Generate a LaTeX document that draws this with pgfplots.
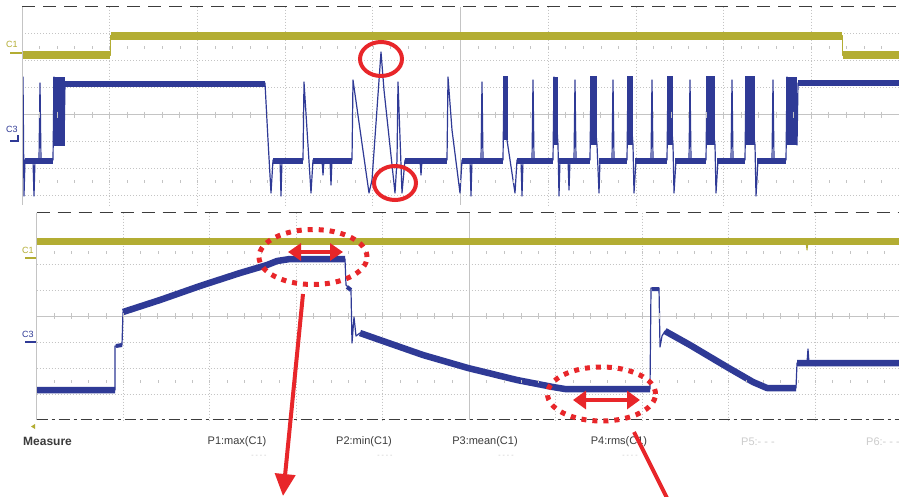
\documentclass[border=0pt]{standalone}
\usepackage{pgfplots}
\pgfplotsset{compat=1.18}
\usepackage{fontspec}
\setmainfont{Liberation Sans}
\usetikzlibrary{arrows.meta}
\definecolor{cy}{HTML}{B3AD33}
\definecolor{cb}{HTML}{2F3A96}
\definecolor{gridc}{HTML}{C4C4C4}
\definecolor{redc}{HTML}{E8262A}
\definecolor{darkl}{HTML}{3C3C3C}
\pgfplotsset{
  osc/.style={
    scale only axis, anchor=south west,
    axis line style={draw=none},
    major tick length=0pt,
    xticklabels={}, yticklabels={},
    grid=major,
    major grid style={gridc, dash pattern=on 1pt off 2pt, line width=0.7pt},
    extra x tick labels={}, extra y tick labels={},
    extra tick style={grid=major, major grid style={gridc, solid, line width=0.8pt}},
    y dir=reverse,
    clip=true,
    unbounded coords=jump,
    line join=round,
  },
}
\begin{document}
\begin{tikzpicture}
\useasboundingbox (0,0) rectangle (899pt,-496pt);
\fill[white] (0,0) rectangle (899pt,-496pt);
% ---------------- top panel
\begin{axis}[osc, at={(22pt,-205pt)}, width=877pt, height=198.3pt,
  xmin=22, xmax=899, ymin=6.7, ymax=205,
  xtick={109.7,197.4,285.1,372.8,548.2,635.9,723.6,811.3},
  ytick={33.7,60.7,87.7,141.7,168.7,195.7},
  extra x ticks={460.5}, extra y ticks={114.7}]
% C1
\addplot[cy, line width=1pt] coordinates {(22,55)(110,55)(110,35.5)(842,35.5)(842,55)(899,55)};
\addplot[cy, line width=8pt] coordinates {(22,55)(110,55)(110,nan)(111,35.5)(842,35.5)(842,nan)(843,55)(899,55)};
% C3 thin trace
\addplot[cb, line width=1.2pt] coordinates {
(22,140)(23,77)(24,196)(25,160)(33,160)(34,196)(35,160)(39,160)(40,83)(41,160)(53,160)(54,77)(55,145)(64,145)(65,83)
(265,83)(268,140)(271,193)(273,160)(280,160)(281,196)(282,160)(303,160)(304,82)(311,193)(313,160)(322,160)(323,175)(324,160)
(330,160)(331,185)(332,160)(352,160)(353,80)(369,193)(372,180)(381,52)(384,90)(395,193)(397,160)(398,82)(402,193)(405,160)
(420,160)(421,175)(422,160)(447,160)(448,77)(452,130)(460,193)(462,160)(470,160)(471,196)(472,160)(481,160)(482,82)(483,160)
(503,160)(504,77)(507,140)(515,193)(517,160)(521,160)(522,196)(523,160)(532,160)(533,80)(534,160)(553,160)(554,77)(558,145)
(559,196)(560,160)(568,160)(569,190)(570,160)(574,160)(575,80)(576,160)(590,160)(591,77)(597,145)(599,193)(600,160)
(612,160)(613,80)(614,160)(627,160)(628,77)(633,145)(634,193)(636,160)(651,160)(652,80)(653,160)(667,160)(668,77)(673,145)
(674,193)(676,160)(689,160)(690,80)(691,160)(706,160)(707,77)(715,145)(716,193)(718,160)(731,160)(732,80)(733,160)
(745,160)(746,77)(755,145)(756,196)(758,160)(772,160)(773,80)(774,160)(786,160)(787,77)(797,145)(798,83)(899,83)};
% C3 thick levels
\addplot[cb, line width=6.5pt] coordinates {
(25,161)(53,161)(53,nan)(273,161)(303,161)(303,nan)(313,161)(352,161)(352,nan)(405,161)(447,161)(447,nan)
(462,161)(503,161)(503,nan)(517,161)(553,161)(553,nan)(559,161)(590,161)(590,nan)(599,161)(627,161)(627,nan)
(635,161)(667,161)(667,nan)(675,161)(706,161)(706,nan)(717,161)(745,161)(745,nan)(757,161)(786,161)};
\addplot[cb, line width=6pt] coordinates {(65,83.5)(265,83.5)(265,nan)(798,83)(899,83)};
% C3 bursts
\addplot[fill=cb, draw=none] coordinates {(53,77)(65,77)(65,146)(53,146)};
\addplot[fill=cb, draw=none] coordinates {(503,76)(508,76)(508,140)(503,140)};
\addplot[fill=cb, draw=none] coordinates {(553,77)(558,77)(558,145)(553,145)};
\addplot[fill=cb, draw=none] coordinates {(590,76)(597,76)(597,145)(590,145)};
\addplot[fill=cb, draw=none] coordinates {(627,76)(633,76)(633,145)(627,145)};
\addplot[fill=cb, draw=none] coordinates {(667,76)(673,76)(673,145)(667,145)};
\addplot[fill=cb, draw=none] coordinates {(706,76)(715,76)(715,145)(706,145)};
\addplot[fill=cb, draw=none] coordinates {(745,76)(755,76)(755,145)(745,145)};
\addplot[fill=cb, draw=none] coordinates {(786,77)(797,77)(797,145)(786,145)};
\end{axis}
% ---------------- bottom panel
\begin{axis}[osc, at={(36.7pt,-420pt)}, width=862.3pt, height=207.3pt,
  xmin=36.7, xmax=899, ymin=212.7, ymax=420,
  xtick={123.2,209.7,296.2,382.7,555.7,642.2,728.7,815.2},
  ytick={238.6,264.5,290.4,342.2,368.1,394.0},
  extra x ticks={469.2}, extra y ticks={316.3}]
\addplot[cy, line width=7pt] coordinates {(36.7,241.7)(899,241.7)};
\addplot[cy, line width=1pt] coordinates {(806,241.7)(807,250)(808,241.7)};
\addplot[cb, line width=1.2pt] coordinates {
(36.7,390)(115,390)(115,346)(122,345)(123,312)(160,300)(200,286)(240,273)(267,265)(277,261)(290,259)(345,259)
(346,285)(351,290)(352,343)(354,317)(356,336)(360,333)(380,340)(423,355)(468,368)(517,380)(553,387)(565,389)(650,389)
(651,288)(659,288)(660,347)(662,336)(665,331)(690,345)(727,367)(753,382)(767,388)(796,388)(797,363)(807,363)(808,349)(809,363)(899,363)};
\addplot[cb, line width=6.5pt] coordinates {
(36.7,390)(115,390)(115,nan)(123,312)(160,300)(200,286)(240,273)(267,265)(277,261)(290,259)(345,259)(345,nan)
(360,333)(380,340)(423,355)(468,368)(517,380)(553,387)(565,389)(650,389)(650,nan)
(665,331)(690,345)(727,367)(753,382)(767,388)(796,388)(796,nan)(797,363)(899,363)};
\addplot[cb, line width=4pt] coordinates {(116,346)(122,345)(122,nan)(347,287)(351,290)(351,nan)(652,289)(659,289)};
\end{axis}
% ---------------- frame decorations
\draw[gridc, line width=0.8pt] (22pt,-6.7pt) -- (22pt,-205pt);
\draw[darkl, line width=1.2pt, dash pattern=on 13pt off 8pt] (22pt,-6.7pt) -- (899pt,-6.7pt);
\draw[gridc, line width=0.8pt] (36.7pt,-212.7pt) -- (36.7pt,-420pt);
\draw[darkl, line width=1.2pt, dash pattern=on 13pt off 8pt] (36.7pt,-212.7pt) -- (899pt,-212.7pt);
\draw[darkl, line width=1.2pt, dash pattern=on 11pt off 4pt on 3pt off 4pt] (36.7pt,-419.5pt) -- (899pt,-419.5pt);
\foreach \k in {1,...,49} \draw[gridc, line width=0.8pt] ({(22+17.54*\k)*1pt},-111.7pt) -- ++(0,-6pt);
\foreach \k in {1,...,49} \draw[gridc, line width=0.6pt] ({(22+17.54*\k)*1pt},-46pt) -- ++(0,-3pt);
\foreach \k in {1,...,49} \draw[gridc, line width=0.6pt] ({(22+17.54*\k)*1pt},-180pt) -- ++(0,-3pt);
\foreach \k in {1,...,49} \draw[gridc, line width=0.8pt] ({(36.7+17.3*\k)*1pt},-313.3pt) -- ++(0,-6pt);
\foreach \k in {1,...,49} \draw[gridc, line width=0.6pt] ({(36.7+17.3*\k)*1pt},-251pt) -- ++(0,-3pt);
\foreach \k in {1,...,49} \draw[gridc, line width=0.6pt] ({(36.7+17.3*\k)*1pt},-380pt) -- ++(0,-3pt);
% channel labels
\node[text=cy, font=\fontsize{9}{10}\selectfont, inner sep=0] at (12pt,-44.5pt) {C1};
\draw[cy, line width=1.3pt] (10pt,-53pt) -- (22pt,-53pt);
\node[text=cb, font=\fontsize{9}{10}\selectfont, inner sep=0] at (12pt,-129pt) {C3};
\draw[cb, line width=1.3pt] (10pt,-141pt) -- (18pt,-141pt) -- (18pt,-135pt);
\node[text=cy, font=\fontsize{9}{10}\selectfont, inner sep=0] at (28pt,-250pt) {C1};
\draw[cy, line width=1.3pt] (25pt,-258pt) -- (36pt,-258pt);
\node[text=cb, font=\fontsize{9}{10}\selectfont, inner sep=0] at (28pt,-334pt) {C3};
\draw[cb, line width=1.3pt] (25pt,-342pt) -- (36pt,-342pt);
\fill[cy] (31pt,-426.5pt) -- (35pt,-424pt) -- (35pt,-429pt) -- cycle;
% measurement row
\node[anchor=west, text=darkl, font=\fontsize{12}{14}\selectfont\bfseries, inner sep=0] at (23pt,-441.5pt) {Measure};
\node[text=darkl, font=\fontsize{11}{13}\selectfont, inner sep=0] at (237pt,-442pt) {P1:max(C1)};
\node[text=darkl, font=\fontsize{11}{13}\selectfont, inner sep=0] at (364pt,-442pt) {P2:min(C1)};
\node[text=darkl, font=\fontsize{11}{13}\selectfont, inner sep=0] at (485pt,-442pt) {P3:mean(C1)};
\node[text=darkl, font=\fontsize{11}{13}\selectfont, inner sep=0] at (619pt,-442pt) {P4:rms(C1)};
\node[text=gray!40, font=\fontsize{11}{13}\selectfont, inner sep=0] at (758pt,-442pt) {P5:- - -};
\node[anchor=west, text=gray!40, font=\fontsize{11}{13}\selectfont, inner sep=0] at (866pt,-442pt) {P6:- - -};
\foreach \xx in {259,385,506,630} \node[text=gray!45, font=\fontsize{7}{8}\selectfont, inner sep=0] at (\xx pt,-456pt) {- - - -};
% red annotations
\draw[redc, line width=4pt] (381pt,-59pt) ellipse (21pt and 17pt);
\draw[redc, line width=4pt] (395pt,-183pt) ellipse (21pt and 17pt);
\draw[redc, line width=5pt, dash pattern=on 5pt off 6pt] (313pt,-257pt) ellipse (54pt and 27.5pt);
\draw[redc, line width=5pt, dash pattern=on 5pt off 6pt] (601.5pt,-394pt) ellipse (54pt and 27pt);
\draw[redc, line width=4pt, {Triangle[width=17pt,length=13pt]}-{Triangle[width=17pt,length=13pt]}] (288pt,-252pt) -- (343pt,-252pt);
\draw[redc, line width=4pt, {Triangle[width=18pt,length=13pt]}-{Triangle[width=18pt,length=13pt]}] (573pt,-400pt) -- (640pt,-400pt);
\draw[redc, line width=4pt, -{Triangle[width=20pt,length=22pt]}] (303pt,-294pt) -- (283pt,-496pt);
\draw[redc, line width=4pt] (634pt,-432pt) -- (669pt,-502pt);
\end{tikzpicture}
\end{document}
